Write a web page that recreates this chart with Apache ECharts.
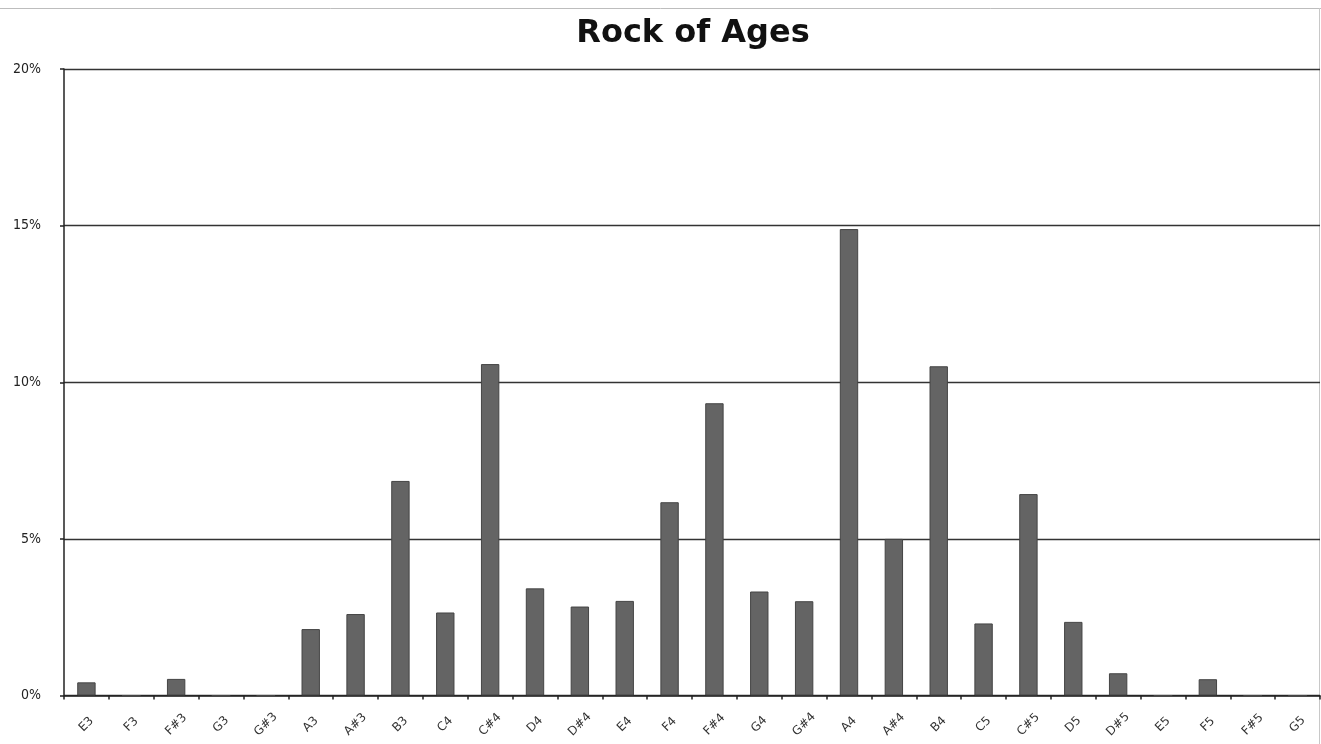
<!DOCTYPE html>
<html>
<head>
<meta charset="utf-8">
<script src="https://cdn.jsdelivr.net/npm/echarts@6/dist/echarts.min.js"></script>
<style>
  html, body { margin: 0; padding: 0; background: #fff; }
  #chart { width: 1321px; height: 744px; }
</style>
</head>
<body>
<div id="chart"></div>
<script>
// Pitch classes of the melody, low to high
const notes = ['E3', 'F3', 'F#3', 'G3', 'G#3', 'A3', 'A#3', 'B3', 'C4', 'C#4', 'D4', 'D#4', 'E4', 'F4',
  'F#4', 'G4', 'G#4', 'A4', 'A#4', 'B4', 'C5', 'C#5', 'D5', 'D#5', 'E5', 'F5', 'F#5', 'G5'];

// Share of notes at each pitch (percent)
const share = [0.42, 0, 0.53, 0, 0, 2.12, 2.6, 6.85, 2.65, 10.58, 3.42, 2.84, 3.02, 6.17,
  9.33, 3.32, 3.01, 14.89, 5.0, 10.51, 2.3, 6.43, 2.35, 0.71, 0, 0.52, 0, 0];

const yTicks = [0, 5, 10, 15, 20];

const chart = echarts.init(document.getElementById('chart'));
chart.setOption({
  animation: false,
  backgroundColor: '#fff',
  title: {
    text: 'Rock of Ages',
    left: 688,
    textAlign: 'center',
    top: 13,
    textStyle: { fontFamily: 'DejaVu Sans', fontWeight: 'bold', fontSize: 32, color: '#111' }
  },
  graphic: [
    {
      type: 'line',
      shape: { x1: 0, y1: 8.5, x2: 1321, y2: 8.5 },
      style: { stroke: '#bdbdbd', lineWidth: 1 }
    },
    {
      type: 'line',
      shape: { x1: 1319.5, y1: 8, x2: 1319.5, y2: 744 },
      style: { stroke: '#c8c8c8', lineWidth: 1 }
    }
  ],
  grid: { left: 64, right: 1, top: 69, bottom: 48.5 },
  xAxis: {
    type: 'category',
    data: notes,
    axisLine: { lineStyle: { color: '#222', width: 1.5 } },
    axisTick: { show: true, alignWithLabel: false, length: 4, lineStyle: { color: '#222', width: 1.5 } },
    axisLabel: {
      interval: 0, rotate: 45, margin: 29,
      align: 'center', verticalAlign: 'middle',
      fontFamily: 'DejaVu Sans', fontSize: 12, color: '#333'
    }
  },
  yAxis: {
    type: 'value',
    min: yTicks[0],
    max: yTicks[yTicks.length - 1],
    interval: 5,
    axisLine: { show: true, lineStyle: { color: '#222', width: 1.5 } },
    axisTick: { show: true, length: 4, lineStyle: { color: '#222', width: 1.5 } },
    axisLabel: {
      margin: 23, fontFamily: 'DejaVu Sans Condensed', fontSize: 14, color: '#222',
      formatter: v => v + '%'
    },
    splitLine: { lineStyle: { color: '#333', width: 1.4 } }
  },
  series: [{
    type: 'bar',
    data: share,
    barWidth: '41%',
    itemStyle: { color: '#646464', borderColor: '#444', borderWidth: 1 }
  }]
});
</script>
</body>
</html>
